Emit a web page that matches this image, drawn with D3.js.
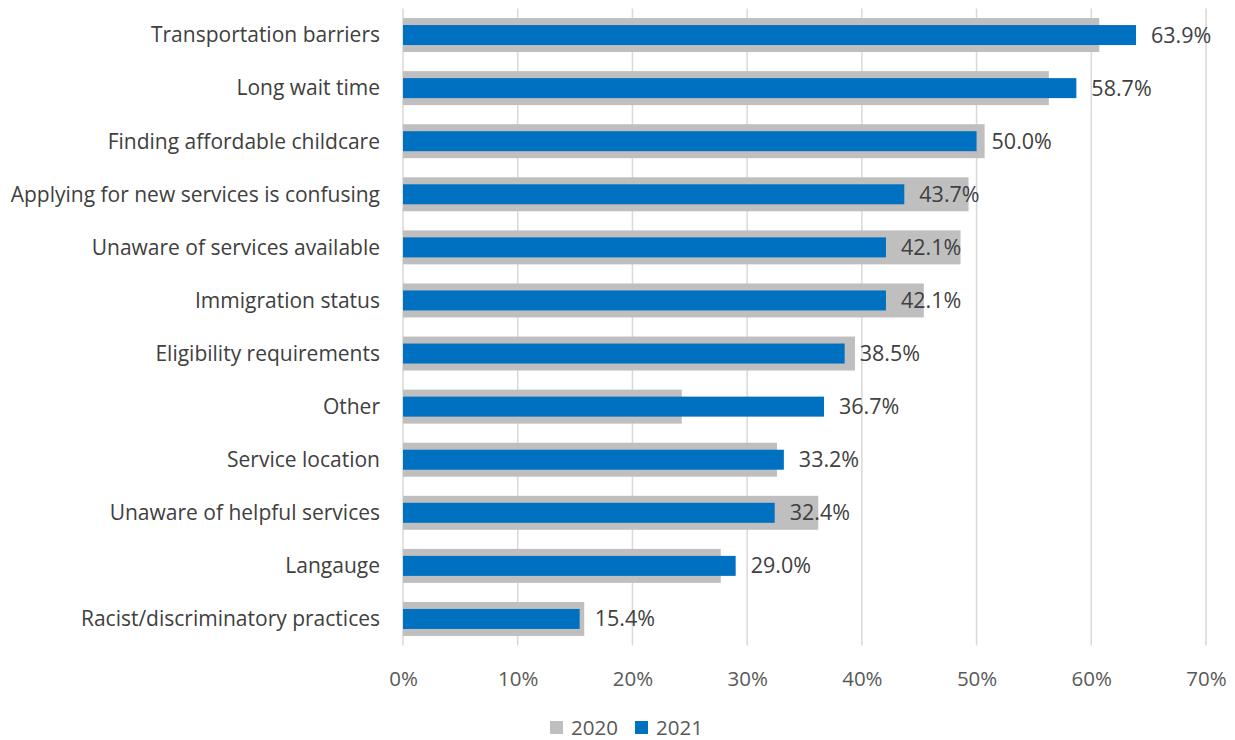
<!DOCTYPE html>
<html>
<head>
<meta charset="utf-8">
<script src="https://cdn.jsdelivr.net/npm/d3@7"></script>
<style>
  html, body { margin: 0; padding: 0; background: #fff; }
  svg { display: block; font-family: "Open Sans", "Noto Sans", sans-serif; }
</style>
</head>
<body>
<svg id="chart" width="1235" height="740"></svg>
<script>
// Barriers to accessing services, share of respondents
const categories = [
  "Transportation barriers",
  "Long wait time",
  "Finding affordable childcare",
  "Applying for new services is confusing",
  "Unaware of services available",
  "Immigration status",
  "Eligibility requirements",
  "Other",
  "Service location",
  "Unaware of helpful services",
  "Langauge",
  "Racist/discriminatory practices"
];
const values2020 = [60.7, 56.3, 50.7, 49.3, 48.6, 45.4, 39.4, 24.3, 32.6, 36.2, 27.7, 15.8];
const values2021 = [63.9, 58.7, 50.0, 43.7, 42.1, 42.1, 38.5, 36.7, 33.2, 32.4, 29.0, 15.4];
const xTicks = [0, 10, 20, 30, 40, 50, 60, 70];
const seriesNames = ["2020", "2021"];
const seriesColors = ["#bfbfbf", "#0070c0"];

const svg = d3.select("#chart");
const plot = { left: 403, right: 1206, top: 8.5, bottom: 645.5 };

const x = d3.scaleLinear().domain([0, 70]).range([plot.left, plot.right]);
const y = d3.scaleBand().domain(categories).range([plot.top, plot.bottom]).paddingInner(0).paddingOuter(0);

// vertical gridlines
svg.append("g")
  .selectAll("line")
  .data(xTicks)
  .join("line")
  .attr("x1", d => x(d)).attr("x2", d => x(d))
  .attr("y1", plot.top).attr("y2", plot.bottom)
  .attr("stroke", "#d9d9d9")
  .attr("stroke-width", 1.5);

// x axis tick labels
const xAxis = d3.axisBottom(x).tickValues(xTicks).tickFormat(d => d + "%").tickSize(0).tickPadding(0);
const gx = svg.append("g").attr("transform", `translate(0, ${plot.bottom})`).call(xAxis);
gx.select(".domain").remove();
gx.selectAll("text")
  .attr("dy", "0.35em")
  .attr("y", 33)
  .attr("font-size", 20.5)
  .attr("font-family", "\"Open Sans\", sans-serif")
  .attr("fill", "#595959");

// category labels
const yAxis = d3.axisLeft(y).tickSize(0).tickPadding(0);
const gy = svg.append("g").attr("transform", "translate(380, 0)").call(yAxis);
gy.select(".domain").remove();
gy.selectAll("text")
  .attr("font-size", 21)
  .attr("font-family", "\"Open Sans\", sans-serif")
  .attr("fill", "#404040")
  .attr("dy", "0.35em");

const band = y.bandwidth();
const h2020 = band * 0.64;
const h2021 = 20;

// 2020 bars (wide, behind)
svg.append("g")
  .selectAll("rect")
  .data(categories)
  .join("rect")
  .attr("x", x(0))
  .attr("y", d => y(d) + band / 2 - h2020 / 2)
  .attr("width", (d, i) => x(values2020[i]) - x(0))
  .attr("height", h2020)
  .attr("fill", seriesColors[0]);

// 2021 bars (narrow, front)
svg.append("g")
  .selectAll("rect")
  .data(categories)
  .join("rect")
  .attr("x", x(0))
  .attr("y", d => y(d) + band / 2 - h2021 / 2)
  .attr("width", (d, i) => x(values2021[i]) - x(0))
  .attr("height", h2021)
  .attr("fill", seriesColors[1]);

// 2021 value labels
svg.append("g")
  .selectAll("text")
  .data(categories)
  .join("text")
  .attr("x", (d, i) => x(values2021[i]) + 15)
  .attr("y", d => y(d) + band / 2)
  .attr("dy", "0.35em")
  .attr("font-size", 21.5)
  .attr("fill", "#404040")
  .text((d, i) => values2021[i].toFixed(1) + "%");

// legend
const legend = svg.append("g").attr("transform", "translate(550, 728)");
const offsets = [0, 85];
seriesNames.forEach((name, i) => {
  const g = legend.append("g").attr("transform", `translate(${offsets[i]}, 0)`);
  g.append("rect").attr("x", 0).attr("y", -7).attr("width", 13).attr("height", 13).attr("fill", seriesColors[i]);
  g.append("text").attr("x", 21).attr("y", 0).attr("dy", "0.35em")
    .attr("font-size", 20.5).attr("fill", "#595959").text(name);
});
</script>
</body>
</html>
